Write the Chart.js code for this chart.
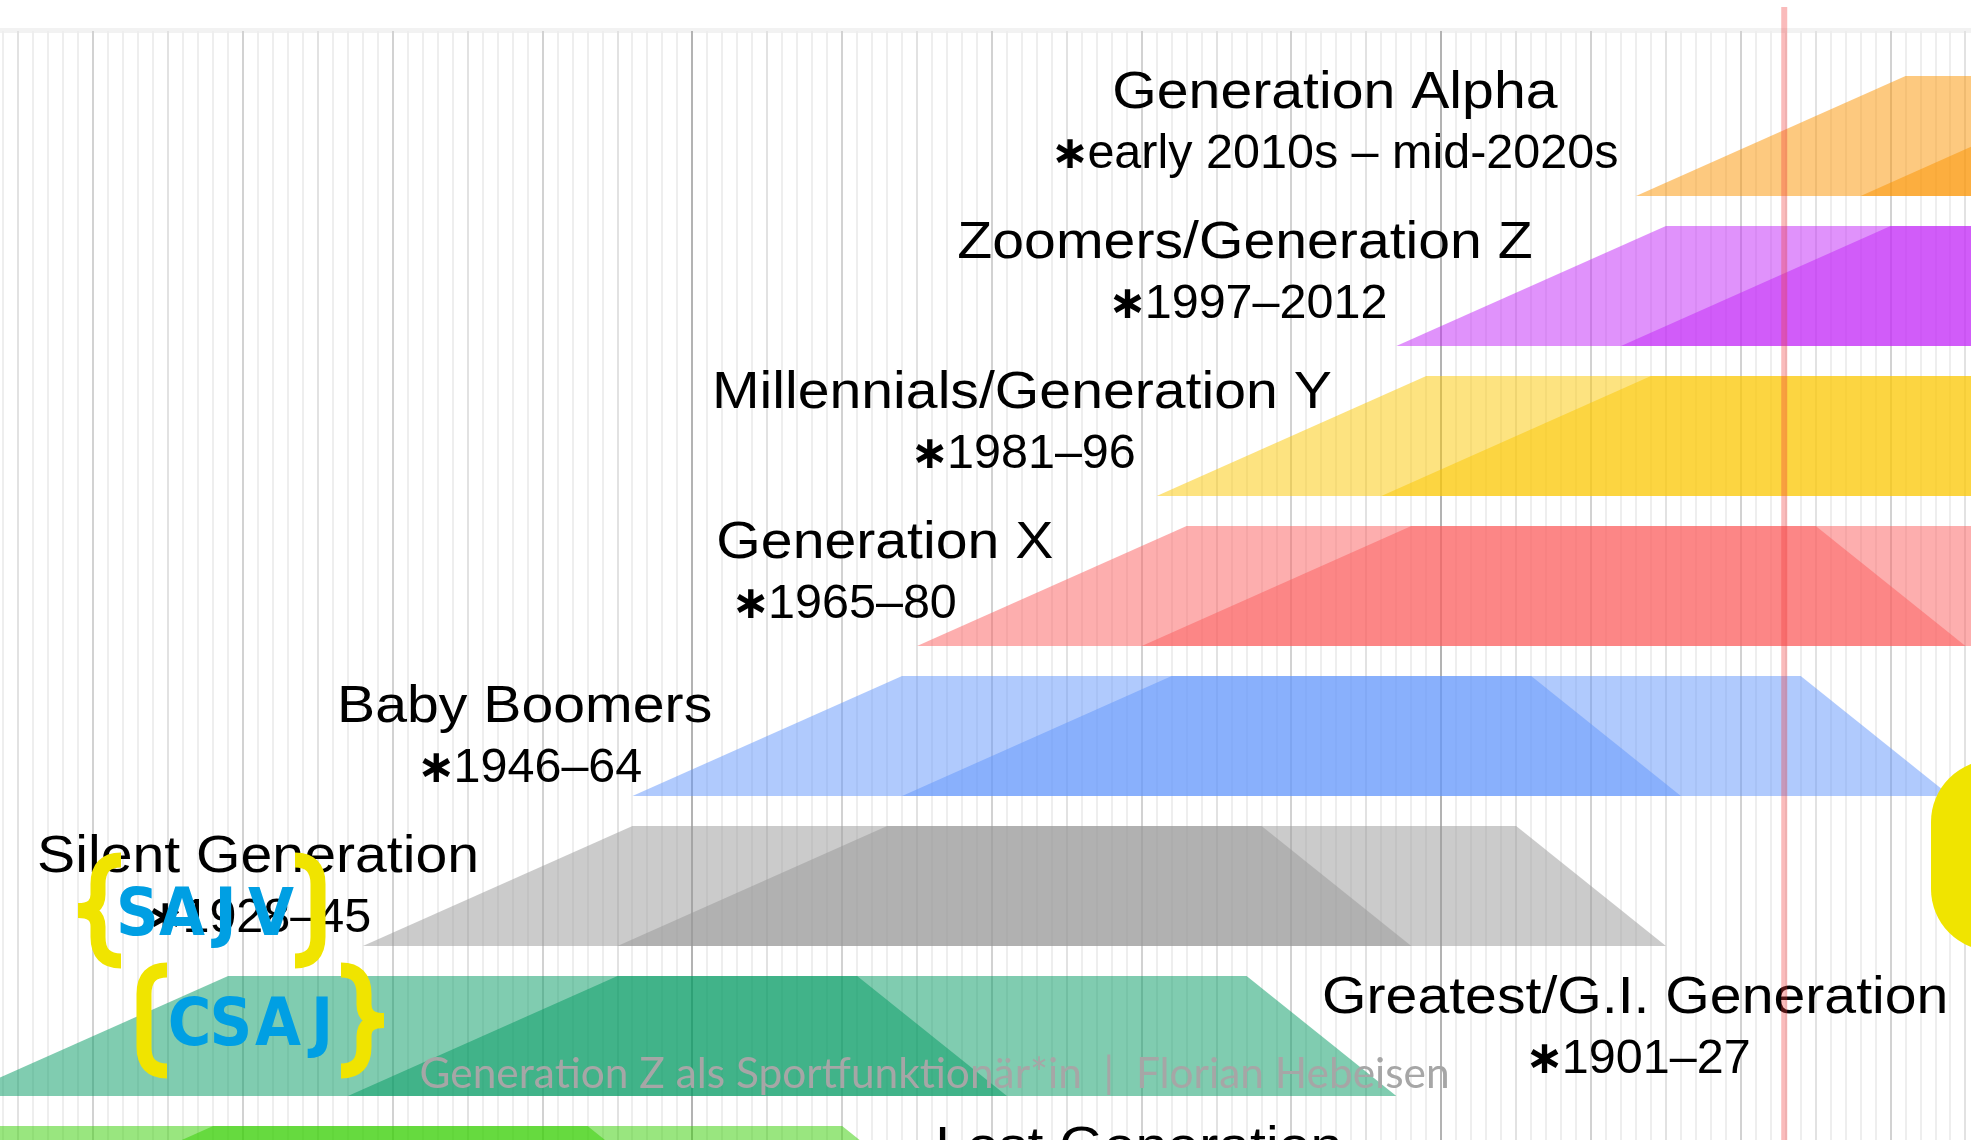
<!DOCTYPE html>
<html>
<head>
<meta charset="utf-8">
<title>Generation timeline</title>
<script src="https://cdn.jsdelivr.net/npm/chart.js@4.4.0/dist/chart.umd.min.js"></script>
<style>
  html, body { margin: 0; padding: 0; background: #fff; overflow: hidden; }
  #wrap { position: relative; width: 1971px; height: 1140px; }
</style>
</head>
<body>
<div id="wrap"><canvas id="timeline" width="1971" height="1140"></canvas></div>
<script>
// generations, top row first
const generationNames = [
  "Generation Alpha", "Zoomers/Generation Z", "Millennials/Generation Y", "Generation X",
  "Baby Boomers", "Silent Generation", "Greatest/G.I. Generation", "Lost Generation"
];
const generationSpans = [
  "early 2010s – mid-2020s", "1997–2012", "1981–96", "1965–80",
  "1946–64", "1928–45", "1901–27", "1883–1900"
];
const birthFrom = [2013, 1997, 1981, 1965, 1946, 1928, 1901, 1883];
const birthTo = [2028, 2012, 1996, 1980, 1964, 1945, 1927, 1900];
// age at each corner of a cohort shape: born, grown up, ageing, gone
const stageAges = [0, 18, 60, 70];
const currentYear = 2022.9;

// styles and layout (kept apart from the data)
const generationColors = ["251,147,0", "193,37,247", "251,199,1", "251,93,93", "97,149,251", "151,151,151", "1,153,97", "51,205,0"];
const labelLayout = [
  { nameAt: 1992.9, spanAt: 1992.95, dy: 32 },
  { nameAt: 1986.9, spanAt: 1987.15, dy: 32 },
  { nameAt: 1972.0, spanAt: 1972.15, dy: 32 },
  { nameAt: 1962.85, spanAt: 1960.2, dy: 32 },
  { nameAt: 1938.8, spanAt: 1939.2, dy: 46 },
  { nameAt: 1921.0, spanAt: 1921.1, dy: 46 },
  { nameAt: 2012.95, spanAt: 2013.2, dy: 37 },
  { nameAt: 1979.8, spanAt: 1979.8, dy: 37 }
];
const ROW_DEPTH = 0.8;

const datasets = [];
generationNames.forEach((name, k) => {
  [birthFrom[k], birthTo[k]].forEach((start) => {
    datasets.push({
      label: name,
      data: stageAges.map((age, i) => ({ x: start + age, y: i === 0 || i === 3 ? k + ROW_DEPTH : k })),
      fill: { value: k + ROW_DEPTH },
      backgroundColor: `rgba(${generationColors[k]},0.5)`,
      borderWidth: 0,
      borderColor: "rgba(0,0,0,0)",
      pointRadius: 0,
      tension: 0
    });
  });
});

function stretchedText(ctx, text, cx, baseline, font, sx) {
  ctx.save();
  ctx.translate(cx, baseline);
  ctx.scale(sx, 1);
  ctx.font = font;
  ctx.textAlign = "center";
  ctx.textBaseline = "alphabetic";
  ctx.fillText(text, 0, 0);
  ctx.restore();
}

// "∗" is heavier than the digits in the original, so it is drawn on its own
function spanText(ctx, text, cx, baseline) {
  const starFont = 'bold 46px "DejaVu Sans", sans-serif';
  const textFont = '48.5px "Liberation Sans", "DejaVu Sans", sans-serif';
  ctx.save();
  ctx.textAlign = "left";
  ctx.textBaseline = "alphabetic";
  ctx.font = starFont;
  const ws = ctx.measureText("∗").width - 4;
  ctx.font = textFont;
  const wt = ctx.measureText(text).width;
  const left = cx - (ws + wt) / 2;
  ctx.font = starFont;
  ctx.fillText("∗", left - 2, baseline);
  ctx.font = textFont;
  ctx.fillText(text, left + ws, baseline);
  ctx.restore();
}

function brace(ctx, stemX, tipX, top, bottom, pointX) {
  const mid = (top + bottom) / 2;
  const r = 24;
  ctx.beginPath();
  ctx.moveTo(tipX, top);
  ctx.quadraticCurveTo(stemX, top, stemX, top + r);
  if (pointX !== undefined) {
    ctx.lineTo(stemX, mid - 16);
    ctx.quadraticCurveTo(stemX, mid, pointX, mid);
    ctx.quadraticCurveTo(stemX, mid, stemX, mid + 16);
  }
  ctx.lineTo(stemX, bottom - r);
  ctx.quadraticCurveTo(stemX, bottom, tipX, bottom);
  ctx.stroke();
}

function logoLetters(ctx, letters, centers, baseline) {
  ctx.font = 'bold 66px "Liberation Sans Narrow", "DejaVu Sans Condensed", sans-serif';
  ctx.textAlign = "center";
  ctx.textBaseline = "alphabetic";
  ctx.fillStyle = "#009fe3";
  letters.split("").forEach((ch, i) => ctx.fillText(ch, centers[i], baseline));
}

const overlay = {
  id: "overlay",
  beforeDraw(chart) {
    const ctx = chart.ctx;
    ctx.save();
    ctx.fillStyle = "#ffffff";
    ctx.fillRect(0, 0, chart.width, chart.height);
    ctx.fillStyle = "#f2f2f2";
    ctx.fillRect(0, 28, chart.width, 5);
    ctx.restore();
  },
  afterDatasetsDraw(chart) {
    const ctx = chart.ctx;
    const xs = chart.scales.x, ys = chart.scales.y;
    ctx.save();

    // generation labels
    ctx.fillStyle = "#000";
    generationNames.forEach((name, k) => {
      const lay = labelLayout[k];
      const top = ys.getPixelForValue(k);
      stretchedText(ctx, name, xs.getPixelForValue(lay.nameAt), top + lay.dy,
        '52px "Liberation Sans", Arial, sans-serif', 1.1);
      spanText(ctx, generationSpans[k], xs.getPixelForValue(lay.spanAt), top + lay.dy + 60);
    });

    // footer text of the slide
    ctx.font = '42px Lato, "Open Sans", sans-serif';
    const foot = "Generation Z als Sportfunktionär*in  |  Florian Hebeisen";
    const w = ctx.measureText(foot).width;
    ctx.save();
    ctx.translate(419.6, 1088.3);
    ctx.scale(1030 / w, 1);
    ctx.fillStyle = "#a6a6a6";
    ctx.textAlign = "left";
    ctx.fillText(foot, 0, 0);
    ctx.restore();

    // "now" marker
    const nx = xs.getPixelForValue(currentYear);
    ctx.strokeStyle = "rgba(240,60,60,0.35)";
    ctx.lineWidth = 6;
    ctx.beginPath();
    ctx.moveTo(nx, 7);
    ctx.lineTo(nx, chart.height);
    ctx.stroke();

    // logos
    ctx.strokeStyle = "#f0e400";
    ctx.lineWidth = 15;
    ctx.lineCap = "butt";
    ctx.lineJoin = "miter";
    brace(ctx, 98, 121, 860, 961, 78);
    brace(ctx, 318, 295, 860, 961);
    brace(ctx, 144, 167, 970, 1071);
    brace(ctx, 364, 341, 970, 1071, 384);
    logoLetters(ctx, "SAJV", [137.3, 182, 225.5, 271], 935);
    logoLetters(ctx, "CSAJ", [189.5, 231, 278, 322], 1045);

    // yellow tab at the right edge
    ctx.fillStyle = "#f0e400";
    ctx.beginPath();
    ctx.roundRect(1931, 760, 200, 191, 62);
    ctx.fill();

    ctx.restore();
  }
};

new Chart(document.getElementById("timeline").getContext("2d"), {
  type: "line",
  data: { datasets },
  options: {
    responsive: false,
    animation: false,
    devicePixelRatio: 1,
    events: [],
    layout: { padding: { top: 31, left: 0, right: 0, bottom: 0 } },
    plugins: { legend: { display: false }, tooltip: { enabled: false } },
    scales: {
      x: {
        type: "linear",
        min: 1903.77,
        max: 2035.37,
        afterBuildTicks: (scale) => {
          const t = [];
          for (let yr = 1904; yr <= 2035; yr++) t.push({ value: yr });
          scale.ticks = t;
        },
        ticks: { display: false },
        border: { display: false },
        grid: {
          drawTicks: false,
          lineWidth: 2,
          color: (c) => {
            const v = c.tick ? c.tick.value : 0;
            if (v % 50 === 0) return "#b3b3b3";
            if (v % 10 === 0) return "#d2d2d2";
            if (v % 5 === 0) return "#e2e2e2";
            return "#eeeeee";
          }
        }
      },
      y: { type: "linear", min: -0.3, max: 7.093, reverse: true, display: false }
    }
  },
  plugins: [overlay]
});
</script>
</body>
</html>
